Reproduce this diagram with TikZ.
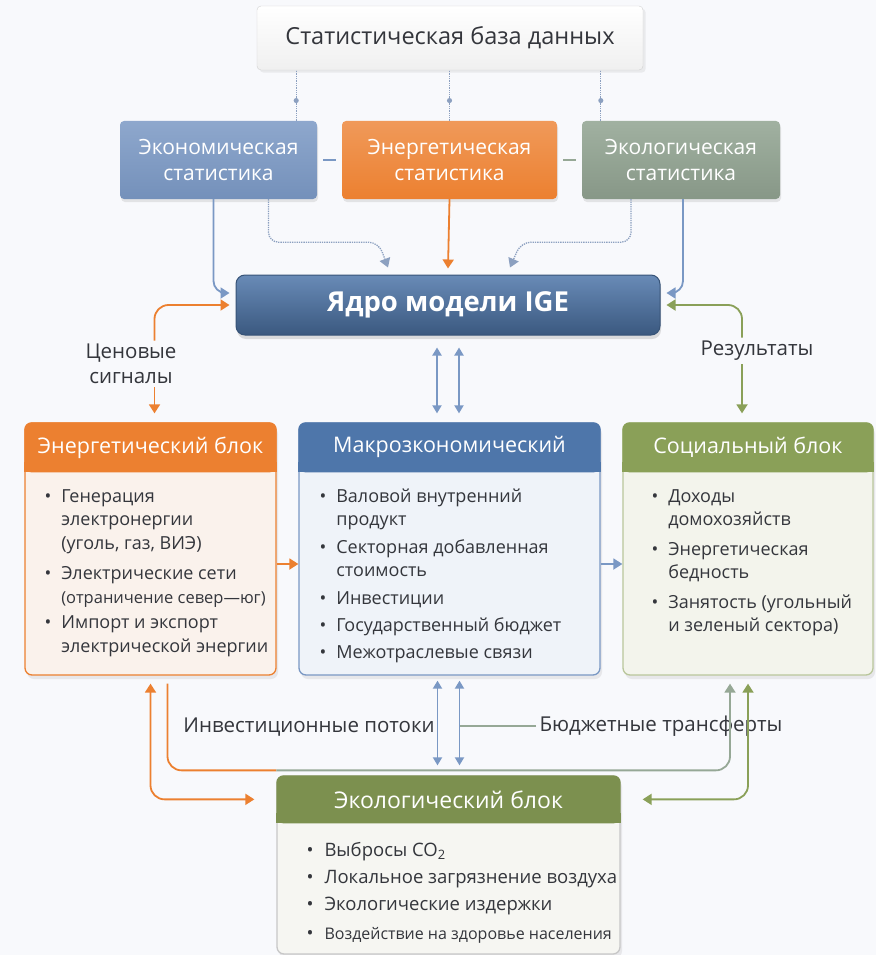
\documentclass[tikz,border=0pt]{standalone}
\usepackage{fontspec}
\setmainfont{Open Sans}
\usepackage{tikz}
\usetikzlibrary{arrows,arrows.meta,shapes,positioning,shadows}
\usepackage{xcolor}
\definecolor{igebg}{RGB}{248,249,252}
\definecolor{igetext}{RGB}{52,54,60}
\definecolor{igeblue}{RGB}{78,118,170}
\definecolor{igeline}{RGB}{122,152,196}
\definecolor{igedot}{RGB}{140,160,192}
\definecolor{igeorange}{RGB}{236,128,48}
\definecolor{igegreen}{RGB}{138,160,88}
\definecolor{igegray}{RGB}{150,168,150}
\definecolor{enbody}{RGB}{250,242,236}
\definecolor{macbody}{RGB}{239,243,249}
\definecolor{socbody}{RGB}{243,244,236}
\definecolor{ecobody}{RGB}{246,246,242}
\tikzstyle{statbox} = [rectangle, rounded corners=4pt, minimum height=78pt, align=center, text=white, font=\fontsize{21}{26}\selectfont, drop shadow={opacity=0.18, shadow xshift=1pt, shadow yshift=-3pt}]
\tikzstyle{block} = [rectangle, rounded corners=7pt, line width=1.3pt, minimum height=252pt, drop shadow={opacity=0.14, shadow xshift=2pt, shadow yshift=-4pt}]
\tikzstyle{headtxt} = [text=white, font=\fontsize{21.5}{24}\selectfont]
\tikzstyle{listtxt} = [anchor=north west, inner sep=0pt, text=igetext, font=\fontsize{18}{23.5}\selectfont]
\tikzstyle{lbl} = [text=igetext, align=center, font=\fontsize{20.5}{25}\selectfont]
\tikzstyle{arrow} = [line width=1.8pt, ->, >={Triangle[length=9pt, width=11pt]}]
\tikzstyle{dblarrow} = [line width=1.8pt, <->, >={Triangle[length=8pt, width=9pt]}, color=igeline]
\tikzstyle{dotline} = [line width=1.3pt, densely dotted, color=igedot]
\tikzstyle{dotdot} = [circle, fill=igedot, inner sep=1.8pt]

\begin{document}
\begin{tikzpicture}[x=1pt, y=-1pt]
\useasboundingbox[fill=igebg] (0,0) rectangle (876,955);

% statistics
\node (db) [rectangle, rounded corners=4pt, minimum width=386pt, minimum height=64pt, top color=white, bottom color=black!6, draw=black!18, text=igetext, font=\fontsize{23.5}{26}\selectfont, drop shadow={opacity=0.12}] at (450,38) {Статистическая база данных};
\node (econstat) [statbox, minimum width=197pt, top color=igeline!85, bottom color=igeline!95!black] at (218.5,160) {Экономическая\\статистика};
\node (enstat) [statbox, minimum width=215pt, top color=igeorange!80, bottom color=igeorange] at (449.5,160) {Энергетическая\\статистика};
\node (ecostat) [statbox, minimum width=198pt, top color=igegray!90, bottom color=igegray!90!black] at (681,160) {Экологическая\\статистика};

\draw[dotline] ([xshift=-21pt]econstat.north east) -- ([xshift=-21pt]db.south -| econstat.north east) node (dot1) [dotdot, pos=0.4] {};
\draw[dotline] (enstat.north) -- (db.south -| enstat.north) node (dot2) [dotdot, pos=0.4] {};
\draw[dotline] ([xshift=19pt]ecostat.north west) -- ([xshift=19pt]db.south -| ecostat.north west) node (dot3) [dotdot, pos=0.4] {};
\draw[line width=2pt, igeline] ([xshift=6pt]econstat.east) -- ([xshift=-6pt]enstat.west);
\draw[line width=2pt, igegray] ([xshift=6pt]enstat.east) -- ([xshift=-6pt]ecostat.west);

% core
\node (core) [rectangle, rounded corners=9pt, minimum width=424pt, minimum height=60pt, top color=igeblue!85, bottom color=igeblue!75!black, draw=igeblue!70!black, line width=1pt, text=white, font=\fontsize{27.5}{30}\selectfont\bfseries, drop shadow={opacity=0.25, shadow xshift=1pt, shadow yshift=-4pt}] at (448,305) {Ядро модели IGE};

\draw[arrow, igeline, rounded corners=12pt] ([xshift=-5pt]econstat.south) |- ([xshift=-6pt, yshift=12pt]core.west);
\draw[arrow, dotline, rounded corners=10pt] ([xshift=50pt]econstat.south) -- ++(0,43) -- ++(110,0) -- ([xshift=-60pt, yshift=7pt]core.north);
\draw[arrow, igeorange] (enstat.south) -- ([yshift=6pt]core.north);
\draw[arrow, dotline, rounded corners=10pt] ([xshift=-50pt]ecostat.south) -- ++(0,43) -- ++(-110,0) -- ([xshift=62pt, yshift=7pt]core.north);
\draw[arrow, igeline, rounded corners=12pt] ([xshift=2pt]ecostat.south) |- ([xshift=6pt, yshift=12pt]core.east);

% model blocks
\node (enblk) [block, minimum width=251pt, draw=igeorange, fill=enbody] at (150.5,549) {};
\node (macblk) [block, minimum width=301pt, draw=igeline, fill=macbody] at (449.5,549) {};
\node (socblk) [block, minimum width=250pt, draw=igegreen!60, fill=socbody] at (748,549) {};
\node (ecoblk) [block, minimum width=343pt, minimum height=178pt, draw=black!22, fill=ecobody] at (448.5,865) {};

\fill[igeorange, rounded corners=7pt] (enblk.north west) rectangle ([yshift=-50pt]enblk.north east);
\fill[igeorange] ([yshift=-40pt]enblk.north west) rectangle ([yshift=-50pt]enblk.north east);
\fill[igeblue, rounded corners=7pt] (macblk.north west) rectangle ([yshift=-50pt]macblk.north east);
\fill[igeblue] ([yshift=-40pt]macblk.north west) rectangle ([yshift=-50pt]macblk.north east);
\fill[igegreen, rounded corners=7pt] (socblk.north west) rectangle ([yshift=-50pt]socblk.north east);
\fill[igegreen] ([yshift=-40pt]socblk.north west) rectangle ([yshift=-50pt]socblk.north east);
\fill[igegreen!90!black, rounded corners=7pt] (ecoblk.north west) rectangle ([yshift=-48pt]ecoblk.north east);
\fill[igegreen!90!black] ([yshift=-38pt]ecoblk.north west) rectangle ([yshift=-48pt]ecoblk.north east);

\node (enhead) [headtxt] at ([yshift=-25pt]enblk.north) {Энергетический блок};
\node (machead) [headtxt] at ([yshift=-25pt]macblk.north) {Макрозкономический};
\node (sochead) [headtxt] at ([yshift=-25pt]socblk.north) {Социальный блок};
\node (ecohead) [headtxt, font=\fontsize{23}{26}\selectfont] at ([yshift=-24pt]ecoblk.north) {Экологический блок};

\node (enlist) [listtxt] at ([xshift=20pt, yshift=-63pt]enblk.north west) {\begin{tabular}{@{}l@{\hspace{10pt}}l@{}}
\textbullet & Генерация\\ & электронергии\\ & (уголь, газ, ВИЭ)\\[7pt]
\textbullet & Электрические сети\\ & {\fontsize{16.5}{23.5}\selectfont(отраничение север—юг)}\\[2pt]
\textbullet & Импорт и экспорт\\ & электрической энергии
\end{tabular}};
\node (maclist) [listtxt] at ([xshift=21pt, yshift=-63pt]macblk.north west) {\begin{tabular}{@{}l@{\hspace{10pt}}l@{}}
\textbullet & Валовой внутренний\\ & продукт\\[4pt]
\textbullet & Секторная добавленная\\ & стоимость\\[4pt]
\textbullet & Инвестиции\\[4pt]
\textbullet & Государственный бюджет\\[3pt]
\textbullet & Межотраслевые связи
\end{tabular}};
\node (soclist) [listtxt] at ([xshift=29pt, yshift=-63pt]socblk.north west) {\begin{tabular}{@{}l@{\hspace{10pt}}l@{}}
\textbullet & Доходы\\ & домохозяйств\\[6pt]
\textbullet & Энергетическая\\ & бедность\\[6pt]
\textbullet & Занятость (угольный\\ & и зеленый сектора)
\end{tabular}};
\node (ecolist) [listtxt, font=\fontsize{18.5}{27}\selectfont] at ([xshift=30pt, yshift=-62pt]ecoblk.north west) {\begin{tabular}{@{}l@{\hspace{11pt}}l@{}}
\textbullet & Выбросы CO\textsubscript{2}\\
\textbullet & Локальное загрязнение воздуха\\
\textbullet & Экологические издержки\\[2pt]
\textbullet & {\fontsize{16}{27}\selectfont Воздействие на здоровье населения}
\end{tabular}};

% core links
\node (price) [lbl] at (131,364) {Ценовые\\сигналы};
\draw[arrow, igeorange, rounded corners=14pt] ([xshift=4pt]price.north -| enblk.north) |- ([xshift=-6pt]core.west);
\draw[arrow, igeorange] ([xshift=4pt]price.south -| enblk.north) -- ([xshift=4pt, yshift=9pt]enblk.north);
\node (res) [lbl] at (757,351) {Результаты};
\draw[arrow, igegreen, rounded corners=14pt] ([xshift=-15pt]res.north) |- ([xshift=6pt]core.east);
\draw[arrow, igegreen] ([xshift=-15pt]res.south) -- ([xshift=-15pt, yshift=9pt]res.south |- socblk.north);
\draw[dblarrow] ([xshift=-11pt, yshift=-12pt]core.south) -- ([xshift=-11pt, yshift=9pt]core.south |- macblk.north);
\draw[dblarrow] ([xshift=11pt, yshift=-12pt]core.south) -- ([xshift=11pt, yshift=9pt]core.south |- macblk.north);
\draw[arrow, igeorange] ([yshift=-15pt]enblk.east) -- ([yshift=-15pt]macblk.west);
\draw[arrow, igeline] ([yshift=-15pt]macblk.east) -- ([yshift=-15pt]socblk.west);

% flows to ecology
\coordinate (mr) at ([xshift=10pt]macblk.south);
\draw[dblarrow] ([xshift=-12pt, yshift=-5pt]macblk.south) -- ([xshift=-12pt, yshift=10pt]macblk.south |- ecoblk.north);
\draw[dblarrow] ([yshift=-5pt]mr) -- ([yshift=10pt]mr |- ecoblk.north);
\node (invest) [lbl] at (309,727) {Инвестиционные потоки};
\node (budget) [lbl] at (661,726) {Бюджетные трансферты};
\draw[line width=1.8pt, igegray] (budget.west) -- (budget.west -| mr);
\draw[arrow, <->, igeorange, rounded corners=14pt] ([yshift=-8pt]enblk.south) |- ([xshift=-22pt]ecohead.west -| ecoblk.west);
\draw[line width=1.8pt, igeorange, rounded corners=14pt] ([xshift=17pt, yshift=-8pt]enblk.south) |- ([yshift=5pt]ecoblk.north west);
\draw[arrow, igegray, rounded corners=14pt] ([yshift=5pt]ecoblk.north west) -| ([xshift=-18pt, yshift=-8pt]socblk.south);
\draw[arrow, <->, igegreen, rounded corners=14pt] ([yshift=-8pt]socblk.south) |- ([xshift=22pt]ecohead.east -| ecoblk.east);
\end{tikzpicture}
\end{document}
